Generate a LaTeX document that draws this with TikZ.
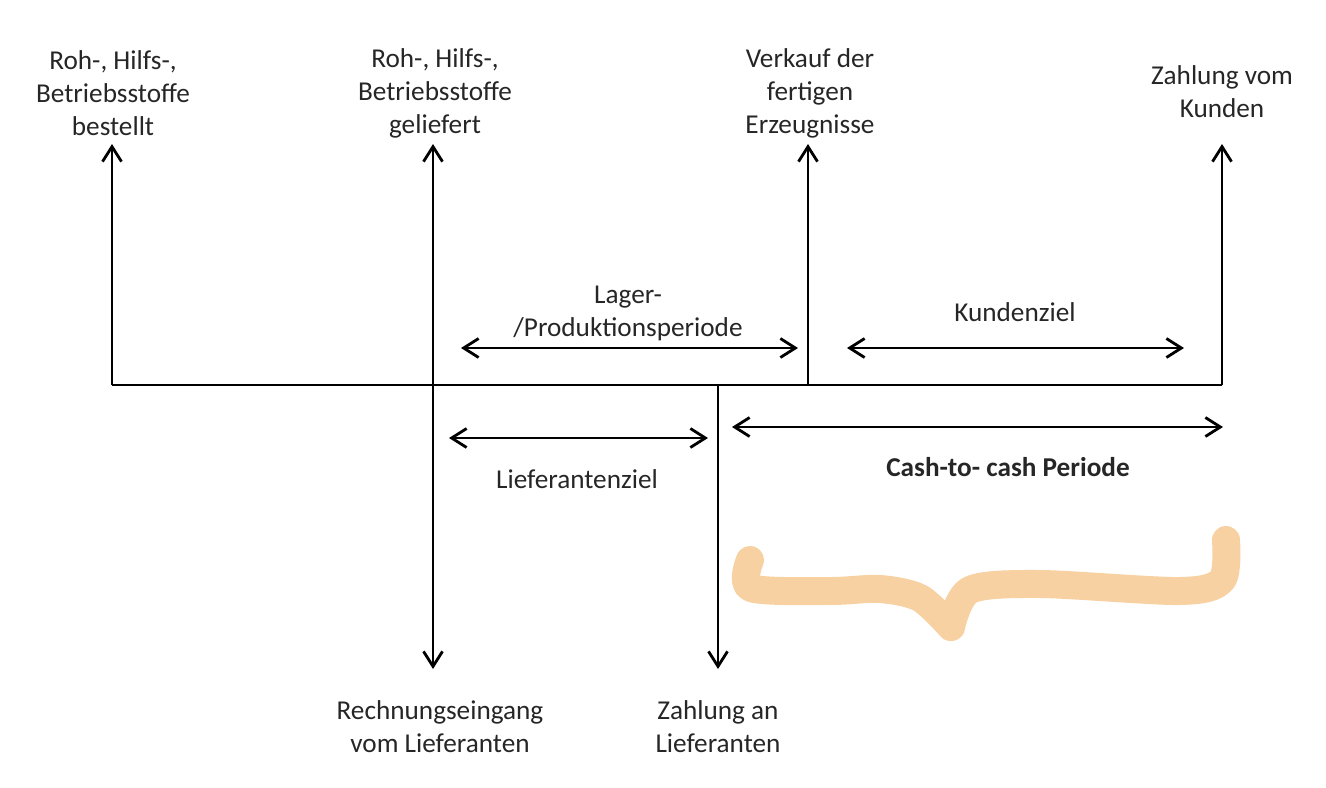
\documentclass[tikz,border=0pt]{standalone}
\usepackage{fontspec}
\setmainfont{Carlito}
\usetikzlibrary{arrows.meta}
\definecolor{peach}{RGB}{247,209,161}
\begin{document}
\begin{tikzpicture}[x=0.02cm,y=-0.02cm,
  axis/.style={line width=1.6pt,black},
  tip/.style={-{Straight Barb[length=0.3cm,width=0.38cm,line width=1.6pt]}},
  both/.style={{Straight Barb[length=0.3cm,width=0.38cm,line width=1.6pt]}-{Straight Barb[length=0.3cm,width=0.38cm,line width=1.6pt]}},
  lbl/.style={align=center,inner sep=0pt,font=\fontsize{15.5}{18.8}\selectfont,text=black!85},
  bold/.style={lbl,font=\fontsize{15.5}{18.8}\selectfont\bfseries}]
\useasboundingbox (0,0) rectangle (1326,788);
% axis points
\coordinate (A0) at (112,385);
\coordinate (A1) at (433,385);
\coordinate (A2) at (718,385);
\coordinate (A3) at (808,385);
\coordinate (A4) at (1222,385);
\coordinate (T0) at (112,144);
\coordinate (T1) at (433,144);
\coordinate (T3) at (808,144);
\coordinate (T4) at (1222,144);
\coordinate (B1) at (433,669);
\coordinate (B2) at (718,669);
% interval ends
\coordinate (L1) at (461,348);
\coordinate (L2) at (798,348);
\coordinate (K1) at (847,348);
\coordinate (K2) at (1184,348);
\coordinate (F1) at (449,438);
\coordinate (F2) at (708,438);
\coordinate (C1) at (732,427);
\coordinate (C2) at (1223,427);
% axis lines
\draw[axis] (A0) -- (A4);
\draw[axis,tip] (A0) -- (T0);
\draw[axis,tip] (A1) -- (T1);
\draw[axis,tip] (A3) -- (T3);
\draw[axis,tip] (A4) -- (T4);
\draw[axis,tip] (A1) -- (B1);
\draw[axis,tip] (A2) -- (B2);
% intervals
\draw[axis,both] (L1) -- (L2);
\draw[axis,both] (K1) -- (K2);
\draw[axis,both] (F1) -- (F2);
\draw[axis,both] (C1) -- (C2);
% labels
\node[lbl] (n0) at (113,93) {Roh-, Hilfs-,\\Betriebsstoffe\\bestellt};
\node[lbl] (n1) at (435,93) {Roh-, Hilfs-,\\Betriebsstoffe\\geliefert};
\node[lbl] (n3) at (810,93) {Verkauf der\\fertigen\\Erzeugnisse};
\node[lbl] (n4) at (1222,92) {Zahlung vom\\Kunden};
\node[lbl] (nb1) at (440,727) {Rechnungseingang\\vom Lieferanten};
\node[lbl] (nb2) at (718,727) {Zahlung an\\Lieferanten};
\node[lbl] (nL) at (628,313) {Lager-\\/Produktionsperiode};
\node[lbl] (nK) at (1015,312) {Kundenziel};
\node[lbl] (nF) at (577,479) {Lieferantenziel};
\node[bold] (nC) at (1008,467) {Cash-to- cash Periode};
% hand-drawn brace
\draw[peach,line width=0.56cm,line cap=round,line join=round]
  plot[smooth,tension=0.5] coordinates {(750,560) (751,588) (830,591) (880,589) (920,598) (951,627)};
\draw[peach,line width=0.56cm,line cap=round,line join=round]
  plot[smooth,tension=0.5] coordinates {(951,627) (970,590) (1040,584) (1180,591) (1222,580) (1226,540)};
\end{tikzpicture}
\end{document}
